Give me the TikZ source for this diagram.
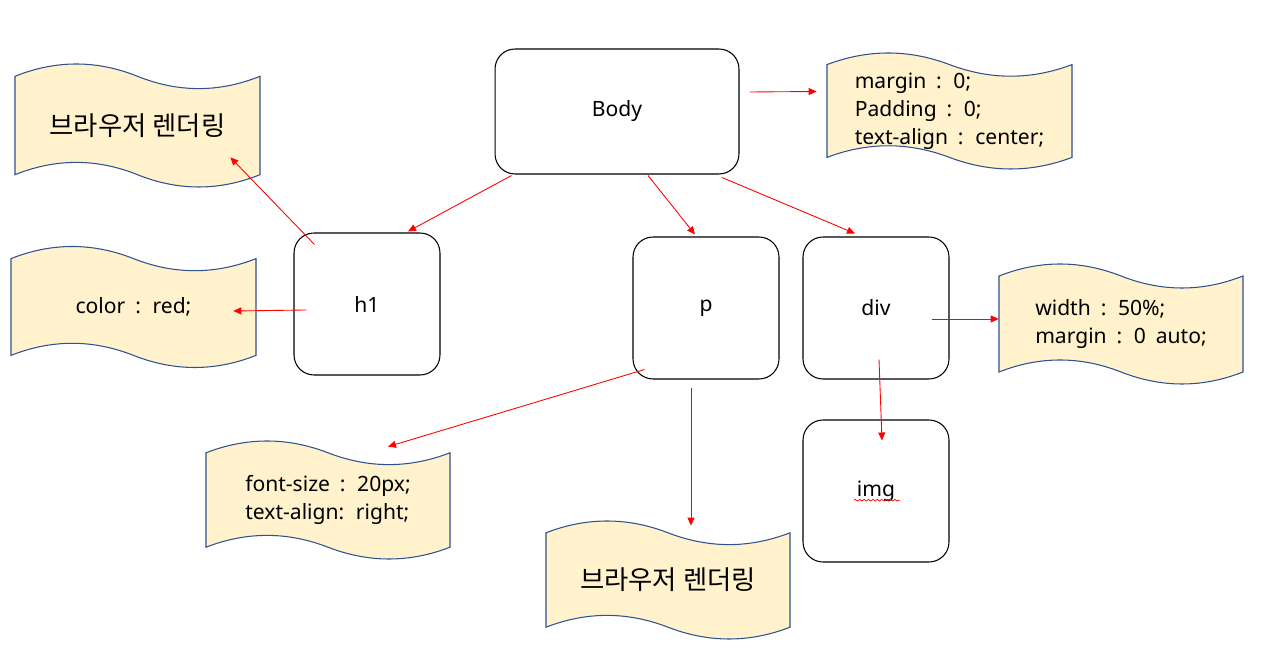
\documentclass[tikz,border=0pt]{standalone}
\usepackage{fontspec}
\setmainfont{Noto Sans}[WordSpace=1.8]
\newfontfamily\kor{Noto Sans CJK KR}
\usetikzlibrary{arrows.meta,decorations.pathmorphing}
\definecolor{tapefill}{HTML}{FFF2CC}
\definecolor{tapeline}{HTML}{2F528F}

\newcommand{\bigtxt}{\kor\fontsize{15pt}{18pt}\selectfont}
% name, center x, center y, width, height, text
\newcommand{\tape}[6]{%
  \pgfmathsetmacro{\tpL}{#2-#4/2}
  \pgfmathsetmacro{\tpR}{#2+#4/2}
  \pgfmathsetmacro{\tpT}{#3-#5/2+#5/10}
  \pgfmathsetmacro{\tpB}{#3+#5/2-#5/10}
  \pgfmathsetmacro{\tpS}{#4/6}
  \pgfmathsetmacro{\tpA}{4*#5/30}
  \draw[tapebox] (\tpL,\tpT) .. controls (\tpL+\tpS,\tpT-\tpA) and (\tpL+2*\tpS,\tpT-\tpA) .. (#2,\tpT)
    .. controls (#2+\tpS,\tpT+\tpA) and (#2+2*\tpS,\tpT+\tpA) .. (\tpR,\tpT)
    -- (\tpR,\tpB)
    .. controls (\tpR-\tpS,\tpB+\tpA) and (\tpR-2*\tpS,\tpB+\tpA) .. (#2,\tpB)
    .. controls (#2-\tpS,\tpB-\tpA) and (#2-2*\tpS,\tpB-\tpA) .. (\tpL,\tpB) -- cycle;
  \node[tapetext, minimum width={#4*0.02cm}, minimum height={#5*0.02cm}] (#1) at (#2,#3) {#6};
}

\begin{document}
\begin{tikzpicture}[x=0.02cm, y=-0.02cm,
    box/.style={draw=black, line width=0.6pt, rounded corners=0.4cm, fill=white,
      minimum width=2.92cm, minimum height=2.84cm, font=\fontsize{12pt}{14pt}\selectfont},
    tapebox/.style={draw=tapeline, fill=tapefill, line width=0.6pt},
    tapetext/.style={align=left, inner sep=0pt, font=\fontsize{12pt}{15.9pt}\selectfont},
    link/.style={draw=red, line width=0.5pt, -{Triangle[length=0.16cm,width=0.14cm]}}]
    \useasboundingbox (0,0) rectangle (1261,671);

    % Boxes

    \node[box, minimum width=4.88cm, minimum height=2.5cm] (body) at (617,111.5) {Body};
    \node[box] (h1) at (367,304) {h1};
    \node[box] (p) at (706,308) {p};
    \node[box] (div) at (876,308) {div};
    \node[box] (img) at (876,491) {img};
    \draw[red, line width=0.4pt, decorate, decoration={snake, amplitude=0.5pt, segment length=2.5pt}]
      ([shift={(-22,4)}]img.base) -- ([shift={(24,4)}]img.base);

    % Tapes

    \tape{renderA}{137.5}{125.5}{245}{123}{\bigtxt 브라우저 렌더링}
    \tape{marginT}{949.5}{111}{245}{116}{margin : 0;\\Padding : 0;\\text-align : center;}
    \tape{colorT}{133.5}{307}{245}{121}{color : red;}
    \tape{widthT}{1121}{324}{244}{120}{width : 50\%;\\margin : 0 auto;}
    \tape{fontT}{328}{500}{244}{118}{font-size : 20px;\\text-align: right;}
    \tape{renderB}{668}{580}{244}{118}{\bigtxt 브라우저 렌더링}

    % Arrows

    \draw[link] ([shift={(17,1)}]body.south west) -- ([shift={(41,-1)}]h1.north);
    \draw[link] ([shift={(31,1)}]body.south) -- ([shift={(-11,-2)}]p.north);
    \draw[link] ([shift={(105,3)}]body.south) -- ([shift={(-21,-3)}]div.north);
    \draw[link] ([shift={(10,-19.5)}]body.east) -- ([shift={(-10,-19.5)}]marginT.west);
    \draw[link] ([shift={(21,12)}]h1.north west) -- ([shift={(-30,-30)}]renderA.south east);
    \draw[link] ([shift={(13,6)}]h1.west) -- ([shift={(-23,4)}]colorT.east);
    \draw[link] ([shift={(12,-10)}]p.south west) -- ([shift={(60,6)}]fontT.north);
    \draw[link] ([shift={(-15,8)}]p.south) -- ([shift={(23,5)}]renderB.north);
    \draw[link] ([shift={(-18,11)}]div.east) -- ([shift={(0,-5)}]widthT.west);
    \draw[link] ([shift={(3,-20)}]div.south) -- ([shift={(6,21)}]img.north);

\end{tikzpicture}
\end{document}
